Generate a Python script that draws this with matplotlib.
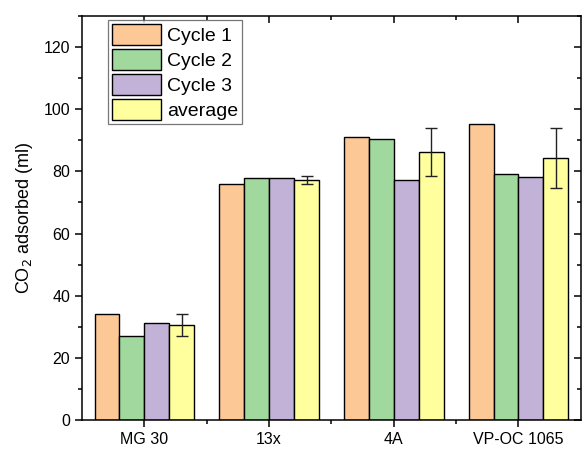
import matplotlib
matplotlib.use("Agg")
import matplotlib.pyplot as plt
from matplotlib.ticker import MultipleLocator, FixedLocator
import numpy as np

plt.rcParams["font.family"] = ["Liberation Sans", "DejaVu Sans"]

categories = ["MG 30", "13x", "4A", "VP-OC 1065"]
cycle1 = [34.1, 75.8, 90.9, 95.2]
cycle2 = [27.0, 78.0, 90.3, 79.3]
cycle3 = [31.1, 78.0, 77.3, 78.2]
average = [30.6, 77.3, 86.2, 84.2]
avg_err = [3.6, 1.3, 7.7, 9.6]

series = [("Cycle 1", cycle1, "#FBC896"),
          ("Cycle 2", cycle2, "#A0D89E"),
          ("Cycle 3", cycle3, "#C2B2D7"),
          ("average", average, "#FFFF9D")]

fig = plt.figure(figsize=(5.82, 4.49), dpi=100)
ax = fig.add_axes([0.141, 0.0646, 0.857, 0.8998])

x = np.arange(1, len(categories) + 1)
w = 0.2
for k, (name, vals, col) in enumerate(series):
    pos = x + (k - 1.5) * w
    if name == "average":
        ax.bar(pos, vals, width=w, color=col, edgecolor="black", linewidth=1.0,
               label=name, yerr=avg_err, capsize=4,
               error_kw=dict(elinewidth=1.0, capthick=1.0, ecolor="#222222"))
    else:
        ax.bar(pos, vals, width=w, color=col, edgecolor="black", linewidth=1.0,
               label=name)

ax.set_xlim(0.5, 4.5)
ax.set_ylim(0, 130)
ax.set_xticks(x)
ax.set_xticklabels(categories, fontsize=11.5)
ax.xaxis.set_minor_locator(FixedLocator([1.5, 2.5, 3.5]))
ax.yaxis.set_major_locator(MultipleLocator(20))
ax.yaxis.set_minor_locator(MultipleLocator(10))
ax.tick_params(axis="y", labelsize=11.5)
ax.set_ylabel("CO$_2$ adsorbed (ml)", fontsize=13, labelpad=6)

for s in ax.spines.values():
    s.set_linewidth(1.1)
ax.tick_params(which="major", length=5, width=1.1)
ax.tick_params(which="minor", length=3, width=1.1)
ax.tick_params(which="both", top=True, right=True)
ax.tick_params(axis="x", which="both", top=True, direction="out")
ax.tick_params(axis="y", which="both", direction="out")
# top and right ticks point inward
for t in ax.xaxis.get_major_ticks() + ax.xaxis.get_minor_ticks():
    t.tick2line.set_marker(3)
for t in ax.yaxis.get_major_ticks() + ax.yaxis.get_minor_ticks():
    t.tick2line.set_marker(0)

leg = ax.legend(loc="upper left", bbox_to_anchor=(0.045, 1.0), fontsize=14,
                frameon=True, fancybox=False, edgecolor="#555555",
                handlelength=2.5, handleheight=1.3, labelspacing=0.2,
                handletextpad=0.3, borderpad=0.2, borderaxespad=0.2)
leg.get_frame().set_linewidth(0.9)

fig.savefig("out.png", dpi=100)
